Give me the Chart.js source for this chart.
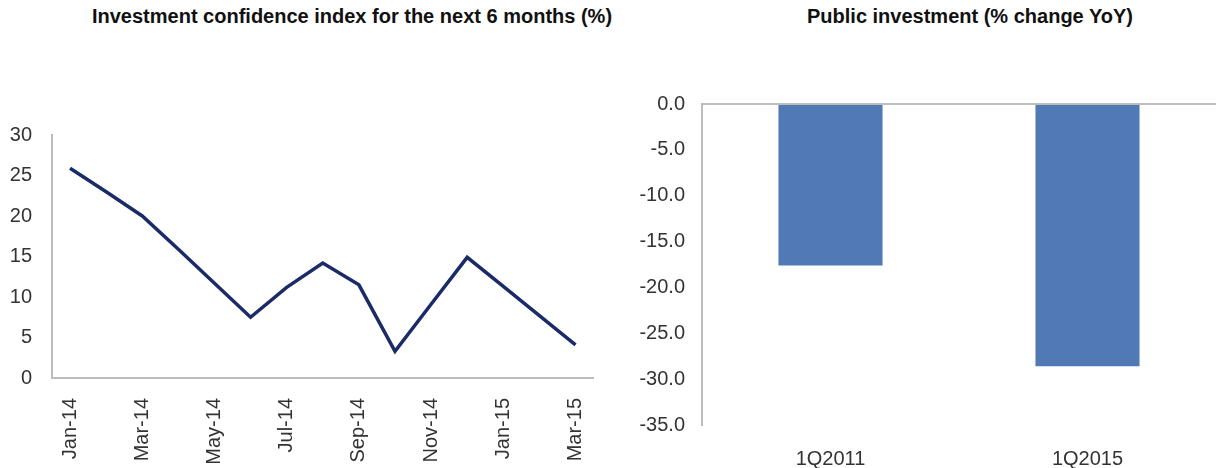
<!DOCTYPE html>
<html>
<head>
<meta charset="utf-8">
<script src="https://cdn.jsdelivr.net/npm/chart.js@4/dist/chart.umd.min.js"></script>
<style>
  body { margin: 0; background: #fff; width: 1216px; height: 468px; position: relative; overflow: hidden; font-family: "Liberation Sans", Arial, sans-serif; }
  .titulo { position: absolute; top: 5px; font-weight: bold; font-size: 20px; color: #111; white-space: nowrap; transform: translateX(-50%); }
  .caixa { position: absolute; }
</style>
</head>
<body>
<div class="titulo" style="left:352px">Investment confidence index for the next 6 months (%)</div>
<div class="titulo" style="left:970px">Public investment (% change YoY)</div>
<div class="caixa" style="left:0; top:100px; width:612px; height:368px"><canvas id="graficoConfianca"></canvas></div>
<div class="caixa" style="left:600px; top:75px; width:616px; height:393px"><canvas id="graficoInvestimento"></canvas></div>
<script>
let meses = ['Jan-14', 'Feb-14', 'Mar-14', 'Apr-14', 'May-14', 'Jun-14', 'Jul-14', 'Aug-14', 'Sep-14', 'Oct-14', 'Nov-14', 'Dec-14', 'Jan-15', 'Feb-15', 'Mar-15']
let confianca = [25.9, 23.0, 20.0, 15.9, 11.7, 7.5, 11.2, 14.2, 11.5, 3.3, 9.1, 14.9, 11.3, 7.7, 4.1]

let trimestres = ['1Q2011', '1Q2015']
let investimento = [-17.6, -28.6]

let fonteTicks = { family: '"Liberation Sans", Arial, sans-serif', size: 20 }
let corTicks = '#333'
let corEixo = '#bdbdbd'

new Chart(document.getElementById('graficoConfianca').getContext('2d'), {
    type: 'line',
    data: {
        labels: meses,
        datasets: [{
            data: confianca,
            borderColor: '#1a2b68',
            borderWidth: 3.5,
            pointRadius: 0,
            tension: 0,
            fill: false
        }]
    },
    options: {
        responsive: true,
        maintainAspectRatio: false,
        animation: false,
        layout: { padding: { top: 35, right: 15 } },
        plugins: { legend: { display: false }, tooltip: { enabled: false } },
        scales: {
            x: {
                offset: true,
                grid: { display: false },
                border: { display: true, color: corEixo, width: 2 },
                ticks: {
                    autoSkip: false,
                    maxRotation: 90,
                    minRotation: 90,
                    padding: 12,
                    color: corTicks,
                    font: fonteTicks,
                    callback: (v, i) => i % 2 === 0 ? meses[i] : ''
                },
                afterFit: s => { s.height = 90 }
            },
            y: {
                min: 0,
                max: 30,
                grid: { display: false },
                border: { display: true, color: corEixo, width: 2 },
                ticks: { stepSize: 5, padding: 12, color: corTicks, font: fonteTicks },
                afterFit: s => { s.width = 52 }
            }
        }
    }
})

new Chart(document.getElementById('graficoInvestimento').getContext('2d'), {
    type: 'bar',
    data: {
        labels: trimestres,
        datasets: [{
            data: investimento,
            backgroundColor: '#5079b6',
            categoryPercentage: 1,
            barPercentage: 0.405
        }]
    },
    options: {
        responsive: true,
        maintainAspectRatio: false,
        animation: false,
        layout: { padding: { top: 18, right: 0 } },
        plugins: { legend: { display: false }, tooltip: { enabled: false } },
        scales: {
            x: {
                grid: { display: false },
                border: { display: false },
                ticks: { padding: 14, color: corTicks, font: fonteTicks },
                afterFit: s => { s.height = 43 }
            },
            y: {
                min: -35,
                max: 0,
                grid: {
                    drawTicks: false,
                    lineWidth: 2,
                    color: c => c.tick && c.tick.value === 0 ? corEixo : 'rgba(0,0,0,0)'
                },
                border: { display: true, color: corEixo, width: 2 },
                ticks: {
                    stepSize: 5,
                    padding: 17,
                    color: corTicks,
                    font: fonteTicks,
                    callback: v => v.toFixed(1)
                },
                afterFit: s => { s.width = 102 }
            }
        }
    }
})
</script>
</body>
</html>
